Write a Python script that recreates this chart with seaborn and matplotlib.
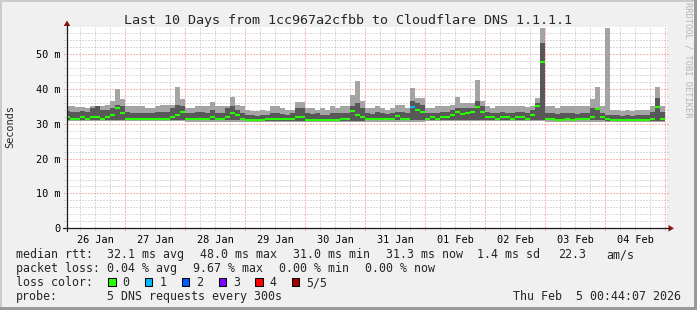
import numpy as np
import pandas as pd
import matplotlib
matplotlib.use("Agg")
import matplotlib.pyplot as plt
import matplotlib.transforms as mtrans
from matplotlib.patches import Rectangle, Polygon
from matplotlib.lines import Line2D
import seaborn as sns

# ---------------- data ----------------
day_labels = ["26 Jan", "27 Jan", "28 Jan", "29 Jan", "30 Jan",
              "31 Jan", "01 Feb", "02 Feb", "03 Feb", "04 Feb"]

# 2-hour bins, 12 per day (ms)
smoke_max = [
    35.0, 35.0, 34.9, 34.9, 34.4, 35.0, 35.0, 35.0, 35.5, 36.5, 40.0, 37.0,
    35.0, 35.0, 35.0, 35.0, 34.5, 34.5, 35.0, 35.3, 35.5, 35.5, 40.5, 37.0,
    34.4, 34.5, 35.0, 35.0, 35.0, 36.3, 35.0, 35.0, 35.0, 37.7, 35.5, 35.0,
    34.0, 33.6, 33.6, 34.0, 33.6, 35.0, 35.0, 34.5, 34.0, 34.0, 36.3, 36.3,
    34.4, 34.4, 34.0, 34.5, 34.0, 35.0, 34.5, 35.0, 35.0, 38.2, 42.2, 36.5,
    34.4, 34.4, 35.0, 34.4, 34.0, 34.5, 35.3, 35.3, 34.5, 40.2, 37.5, 37.5,
    34.4, 34.4, 35.0, 35.0, 35.0, 35.5, 37.8, 36.0, 36.0, 36.0, 42.6, 36.5,
    35.0, 34.5, 35.0, 35.0, 35.0, 35.0, 35.0, 35.0, 34.8, 35.0, 37.5, 57.4,
    35.0, 35.0, 34.5, 35.0, 35.0, 35.0, 35.0, 35.0, 35.0, 37.2, 40.6, 35.0,
    57.4, 34.0, 33.9, 33.6, 34.0, 33.6, 34.0, 34.0, 34.0, 35.0, 40.5, 35.0,
]
smoke_q4 = [
    33.8, 33.5, 33.5, 33.8, 33.5, 34.5, 35.0, 34.0, 34.0, 34.5, 35.5, 35.0,
    33.5, 33.0, 33.0, 33.0, 33.0, 33.0, 33.5, 33.5, 33.5, 34.5, 35.5, 35.0,
    33.0, 33.0, 33.5, 33.5, 33.0, 34.0, 33.0, 33.0, 34.5, 35.0, 34.0, 33.0,
    32.5, 32.5, 32.3, 32.5, 32.5, 33.0, 33.0, 32.8, 32.5, 33.0, 34.5, 34.5,
    33.0, 32.8, 33.0, 32.5, 32.5, 33.0, 33.0, 33.0, 33.0, 35.0, 36.0, 34.5,
    33.0, 32.8, 33.5, 33.0, 32.8, 33.0, 33.5, 33.5, 33.0, 36.5, 36.0, 35.5,
    33.0, 33.0, 33.0, 33.5, 33.5, 34.0, 34.5, 34.5, 34.5, 34.5, 36.5, 35.0,
    33.5, 33.0, 33.0, 33.5, 33.0, 33.0, 33.5, 33.5, 33.0, 34.0, 36.0, 53.1,
    33.0, 33.0, 32.8, 33.0, 33.0, 33.0, 32.8, 33.0, 33.0, 34.4, 34.4, 33.0,
    32.5, 32.5, 32.5, 32.2, 32.5, 32.2, 32.5, 32.5, 32.5, 33.5, 37.4, 33.5,
]
median_rtt = [
    31.8, 31.5, 31.5, 31.8, 31.5, 31.8, 31.8, 31.5, 32.0, 32.5, 34.5, 33.0,
    31.5, 31.3, 31.3, 31.5, 31.3, 31.3, 31.3, 31.5, 31.5, 32.0, 32.5, 33.3,
    31.3, 31.5, 31.5, 31.3, 31.5, 32.0, 31.5, 31.3, 32.0, 33.0, 32.5, 31.5,
    31.2, 31.2, 31.0, 31.2, 31.3, 31.3, 31.5, 31.3, 31.3, 31.5, 31.8, 32.0,
    31.2, 31.0, 31.2, 31.0, 31.2, 31.2, 31.2, 31.3, 31.5, 33.6, 32.5, 32.0,
    31.3, 31.3, 31.5, 31.3, 31.5, 31.5, 32.2, 31.5, 31.5, 34.8, 34.0, 33.5,
    31.5, 31.8, 31.5, 32.0, 31.8, 32.5, 33.3, 32.8, 33.0, 33.5, 34.7, 33.5,
    32.0, 31.8, 31.5, 32.0, 31.8, 31.5, 31.8, 31.8, 31.5, 32.5, 35.1, 47.8,
    31.5, 31.3, 31.2, 31.2, 31.3, 31.2, 31.3, 31.5, 31.5, 32.0, 34.1, 32.0,
    31.3, 31.0, 31.2, 31.0, 31.2, 31.0, 31.2, 31.0, 31.2, 31.5, 34.9, 31.3,
]
# lowest ping and 2nd ping, one value per day
smoke_min_day = [30.7, 30.7, 30.6, 30.5, 30.5, 30.6, 30.7, 30.7, 30.6, 30.5]
smoke_q2_day = [31.1, 31.0, 31.0, 30.9, 30.9, 31.0, 31.1, 31.1, 31.0, 30.9]
# lost pings per bin (one bin with 1 loss)
loss_count = [0] * 69 + [1] + [0] * 50

loss_colors = {"0": "#26ff00", "1": "#00b8ff", "2": "#0059ff",
               "3": "#7e00ff", "4": "#ff0000", "5/5": "#a10000"}

title = "Last 10 Days from 1cc967a2cfbb to Cloudflare DNS 1.1.1.1"
legend_rtt = [("median rtt:", 16), ("32.1 ms avg", 107), ("48.0 ms max", 200),
              ("31.0 ms min", 293), ("31.3 ms now", 386), ("1.4 ms sd", 477),
              ("22.3", 558), ("am/s", 606)]
legend_loss = [("packet loss:", 16), ("0.04 % avg", 107), ("9.67 % max", 193),
               ("0.00 % min", 279), ("0.00 % now", 365)]
probe_text = "5 DNS requests every 300s"
stamp_text = "Thu Feb  5 00:44:07 2026"

# ---------------- figure ----------------
W, H = 697, 310
sns.set_style("white")
plt.rcParams["font.family"] = ["DejaVu Sans Mono"]
plt.rcParams["lines.scale_dashes"] = False
fig = plt.figure(figsize=(W / 100, H / 100), dpi=100)
fig.patch.set_facecolor("#f0f0f0")
P = mtrans.Affine2D().scale(1 / W, -1 / H).translate(0, 1) + fig.transFigure

# frame shading
fig.add_artist(Rectangle((0, 0), W, 2, transform=P, color="#cbcbcb", lw=0))
fig.add_artist(Rectangle((0, 0), 2, H, transform=P, color="#cbcbcb", lw=0))
fig.add_artist(Rectangle((0, H - 3), W, 3, transform=P, color="#999999", lw=0))
fig.add_artist(Rectangle((W - 3, 0), 3, H, transform=P, color="#999999", lw=0))

y0px, y1px = 228.3, 27.0
ax = fig.add_axes([67 / W, (H - y0px) / H, 600 / W, (y0px - y1px) / H])
ax.set_facecolor("white")
x_start = 0.735
ax.set_xlim(x_start, x_start + 240)
ax.set_ylim(0, (y0px - y1px) / 3.485)
for s in ax.spines.values():
    s.set_visible(False)

nb = len(median_rtt)
edges = np.arange(nb + 1) * 2.0
lo = np.repeat(smoke_min_day, 12)
q2 = np.repeat(smoke_q2_day, 12)
ext = lambda a: np.append(np.asarray(a, float), a[-1])
ax.fill_between(edges, ext(lo), ext(smoke_max), step="post", color="#a4a4a4", lw=0, zorder=1)
ax.fill_between(edges, ext(q2), ext(smoke_q4), step="post", color="#585858", lw=0, zorder=2)

# grid (under the data), 1px dots with 2px gaps
gx = dict(clip_on=False, lw=0.72, ls=(0, (0.72, 1.44)), zorder=0.5, snap=True)
for h in range(6, 241, 6):
    major = h % 24 == 0
    ax.axvline(h, ymin=-2 / 201, ymax=1, color="#f07070" if major else "#b8b8b8", **gx)
for v in range(2, 58, 2):
    major = v % 10 == 0
    ax.axhline(v, xmin=-3 / 600, xmax=1 + 2 / 600,
               color="#f07070" if major else "#b8b8b8", **gx)

# median, coloured by loss
rows = []
for i in range(nb):
    for h in (edges[i], edges[i + 1]):
        rows.append({"bin": i, "hour": h, "rtt": median_rtt[i], "loss": str(loss_count[i])})
df = pd.DataFrame(rows)
sns.lineplot(data=df, x="hour", y="rtt", units="bin", estimator=None, hue="loss",
             palette={k: loss_colors[k] for k in df["loss"].unique()},
             linewidth=1.5, legend=False, ax=ax, zorder=4, solid_capstyle="butt")

# ticks
ax.set_xticks([12 + 24 * k for k in range(10)], day_labels)
ax.set_yticks([0, 10, 20, 30, 40, 50], ["0", "10 m", "20 m", "30 m", "40 m", "50 m"])
ax.tick_params(axis="both", length=0, labelsize=7.4, colors="black")
ax.tick_params(axis="x", pad=5)
ax.tick_params(axis="y", pad=5)
ax.set_xlabel("")
ax.set_ylabel("")

# axes lines + arrows
axc = "#1a1a1a"
fig.add_artist(Line2D([62.5, 669], [y0px, y0px], transform=P, color=axc, lw=0.9))
fig.add_artist(Line2D([67, 67], [231, 25], transform=P, color=axc, lw=0.9))
fig.add_artist(Polygon([(668.5, 225.0), (668.5, 231.6), (674, 228.3)], closed=True,
                       transform=P, color="#8e1414", lw=0))
fig.add_artist(Polygon([(63.7, 26.0), (70.3, 26.0), (67, 20.5)], closed=True,
                       transform=P, color="#8e1414", lw=0))

# texts
fig.text(347.5, 24, title, transform=P, ha="center", va="baseline", fontsize=9.6)
fig.text(10.5, 127, "Seconds", transform=P, ha="center", va="center",
         rotation=90, fontsize=7.4)
fig.text(688, 60, "RRDTOOL / TOBI OETIKER", transform=P, ha="center", va="center",
         rotation=270, fontsize=6.2, color="#b4b4b4")

fs = 8.4
for txt, x in legend_rtt:
    fig.text(x, 258.3, txt, transform=P, ha="left", va="baseline", fontsize=fs)
for txt, x in legend_loss:
    fig.text(x, 272.3, txt, transform=P, ha="left", va="baseline", fontsize=fs)
fig.text(16, 286.3, "loss color:", transform=P, ha="left", va="baseline", fontsize=fs)
for j, (lab, col) in enumerate(loss_colors.items()):
    bx = 108.3 + 36.75 * j
    fig.add_artist(Rectangle((bx, 277.5), 7.4, 8.4, transform=P, facecolor=col,
                             edgecolor="black", lw=0.75))
    fig.text(bx + 14.3, 286.3, lab, transform=P, ha="left", va="baseline", fontsize=fs)
fig.text(16, 299.8, "probe:", transform=P, ha="left", va="baseline", fontsize=fs)
fig.text(107, 299.8, probe_text, transform=P, ha="left", va="baseline", fontsize=fs)
fig.text(681, 299.8, stamp_text, transform=P, ha="right", va="baseline", fontsize=fs)

fig.savefig("out.png", dpi=100, facecolor=fig.get_facecolor())
